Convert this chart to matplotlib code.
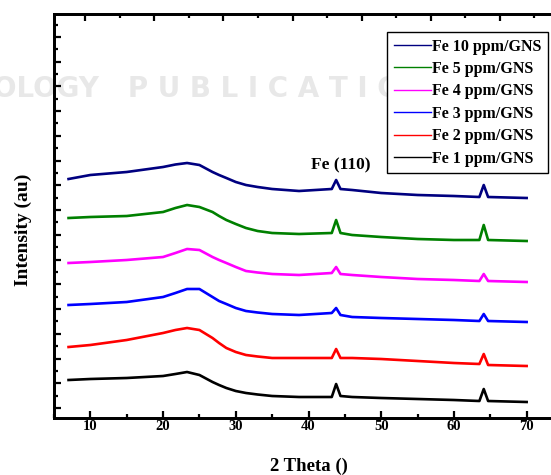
import numpy as np
import matplotlib
matplotlib.use("Agg")
import matplotlib.pyplot as plt
from matplotlib.ticker import MultipleLocator, FixedLocator, NullFormatter

# 2 theta positions (deg)
two_theta = [7, 10, 15, 20, 21.7, 23.3, 25, 26.8, 27.7, 28.7, 30, 31.4, 33, 35, 38.7,
             43.2, 43.8, 44.4, 46, 50, 55, 60, 63.5, 64.1, 64.7, 70]

# intensity (arbitrary units, already stacked with offsets as in the figure)
fe10 = [239, 243, 246, 251, 253.5, 255, 253, 246, 243, 240, 236, 233, 231, 229, 227,
        229, 238, 229, 228, 225, 223, 222, 221, 233, 221, 220]
fe5 = [200, 201, 202, 206, 210, 213, 211, 206, 202, 198, 194, 190, 187, 185, 184,
       185, 198, 185, 183, 181, 179, 178, 178, 193, 178, 177]
fe4 = [155, 156, 158, 161, 165, 169, 168, 161, 158, 155, 151, 147, 145.5, 144, 143,
       145, 151, 144, 143, 141, 139, 138, 137, 144, 137, 136]
fe3 = [113, 114, 116, 121, 125, 129, 129, 121, 117, 114, 110, 107, 105.5, 104, 103,
       105, 110, 103, 101, 100, 99, 98, 97, 104, 97, 96]
fe2 = [71, 73, 78, 85, 88, 90, 88, 80, 75, 70, 66, 63, 61.5, 60, 60,
       60, 69, 60, 60, 59, 57, 55, 54, 64, 53, 52]
fe1 = [38, 39, 40, 42, 44, 46, 43, 36, 33, 30, 27, 25, 23.5, 22, 21,
       21, 34, 22, 21, 20, 19, 18, 17, 29, 17, 16]

labels = ["Fe 10 ppm/GNS", "Fe 5 ppm/GNS", "Fe 4 ppm/GNS",
          "Fe 3 ppm/GNS", "Fe 2 ppm/GNS", "Fe 1 ppm/GNS"]
series = [fe10, fe5, fe4, fe3, fe2, fe1]
colours = ["#000080", "#008000", "#ff00ff", "#0000ff", "#ff0000", "#000000"]

plt.rcParams['font.family'] = ['Liberation Serif', 'DejaVu Serif']
plt.rcParams['font.weight'] = 'bold'

fig = plt.figure(figsize=(5.51, 4.75), dpi=100)

# faint watermark behind the plot
fig.text(-0.012, 1 - 89 / 475, "OLOGY   P U B L I C A T I O N S", color="#e8e8e8",
         fontsize=20, family="DejaVu Sans", weight="bold", ha="left",
         va="center", zorder=-5)

ax = fig.add_axes([54 / 551, 57 / 475, 509 / 551, 404 / 475])
ax.set_facecolor("none")

for ys, lab, col in zip(series, labels, colours):
    ax.plot(two_theta, ys, color=col, lw=1.9, label=lab)

ax.set_xlim(5, 75)
ax.set_ylim(0, 404)

ax.xaxis.set_major_locator(FixedLocator([10, 20, 30, 40, 50, 60, 70]))
ax.xaxis.set_minor_locator(MultipleLocator(5))
ax.yaxis.set_major_locator(FixedLocator(np.arange(10, 404, 24.74)))
ax.yaxis.set_minor_locator(FixedLocator(np.arange(22.37, 404, 24.74)))
ax.set_yticklabels([])

ax.tick_params(which="both", direction="in", top=False, right=True, width=1.6)
ax.tick_params(which="major", length=5, labelsize=10.5, pad=1.5)
ax.tick_params(which="minor", length=3)
for s in ax.spines.values():
    s.set_linewidth(2.0)

# top axis has its own (slightly different) tick spacing in the original
top = ax.twiny()
top.set_xlim(5, 75)
top.xaxis.set_major_locator(FixedLocator(np.arange(9.3, 75, 9.5)))
top.xaxis.set_minor_locator(FixedLocator(np.arange(14.05, 75, 9.5)))
top.xaxis.set_major_formatter(NullFormatter())
top.tick_params(which="both", direction="in", width=1.6)
top.tick_params(which="major", length=5)
top.tick_params(which="minor", length=3)
for s in top.spines.values():
    s.set_linewidth(2.0)

ax.set_xlabel("2 Theta ()", fontsize=13.5, fontweight="bold", labelpad=18)
ax.set_ylabel("Intensity (au)", fontsize=14, fontweight="bold",
              ha="center", va="center")
ax.yaxis.set_label_coords(-0.061, 0.465)

ax.text(44.4, 253, "Fe (110)", fontsize=12.5, fontweight="bold",
        ha="center", va="center")

leg = ax.legend(loc="upper right", bbox_to_anchor=(0.9705, 0.955),
                borderaxespad=0, fancybox=False, edgecolor="black",
                framealpha=1, fontsize=11.5, handlelength=2.3,
                handletextpad=0.1, labelspacing=0.4, borderpad=0.4)
leg.get_frame().set_linewidth(1.0)
for line in leg.get_lines():
    line.set_linewidth(1.0)

fig.savefig("out.png", dpi=100)
